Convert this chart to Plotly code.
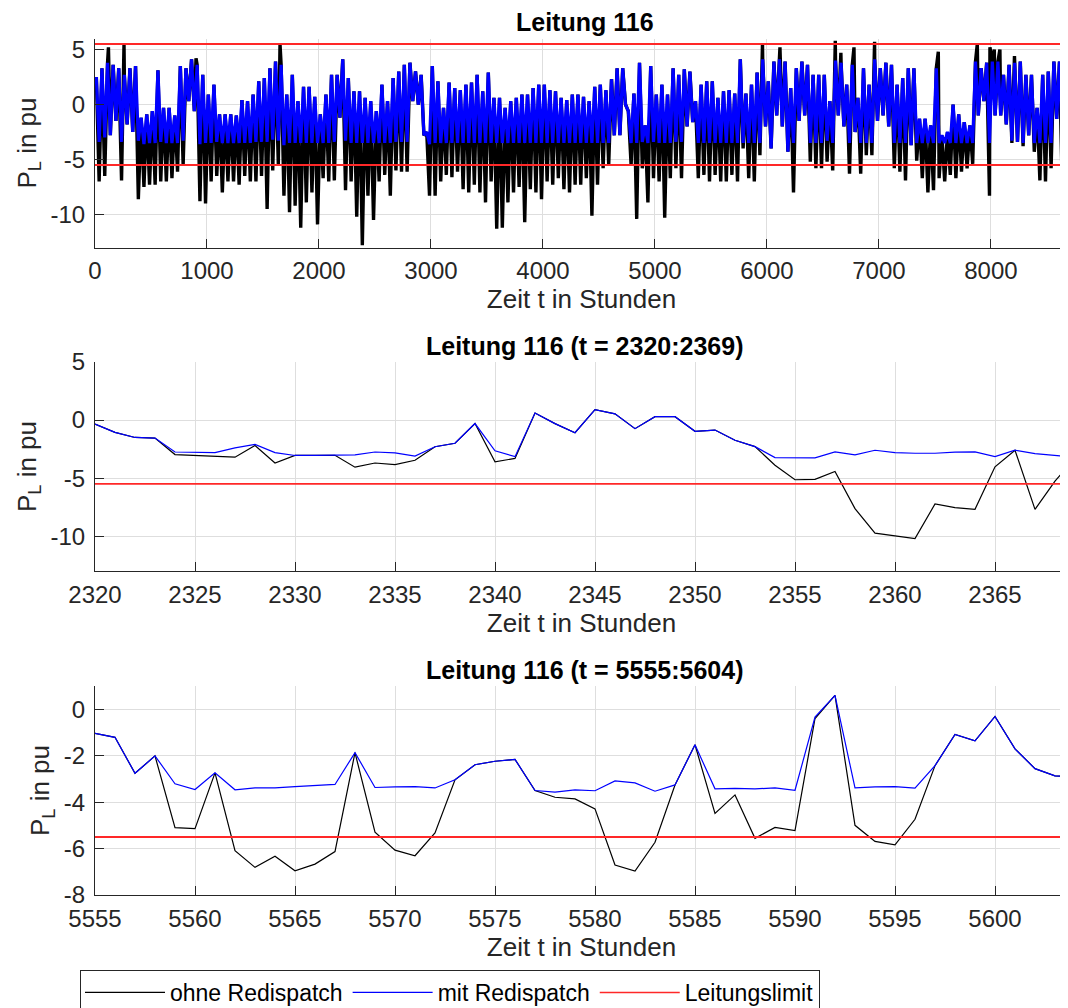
import plotly.graph_objects as go

LIMIT = 5.5

# ---------- top panel: whole year, read per 50-hour bin ----------
bin_start = list(range(0, 8750, 50))
mit_max = [
    2.5, 3.3, 3.8, 3.6, 3.3, 2.7, 3.3, 3.5, -1.2, -0.9,
    -0.6, 3.1, -0.3, -0.3, -1.0, 3.5, 3.3, 4.1, 3.6, 2.7,
    0.9, 1.8, -0.9, -0.9, -0.9, -1.0, 0.4, 0.3, 0.9, 2.1,
    2.4, 3.3, 3.9, 3.6, 0.9, 2.7, 0.3, 1.6, 1.6, 0.7,
    -0.9, 0.9, 2.7, 2.7, 4.1, 2.4, 1.2, 1.2, 0.6, 0.3,
    -0.6, 1.8, 0.3, 2.4, 3.0, 3.6, 3.8, 3.0, 2.7, -2.5,
    3.5, 2.1, -0.3, 2.0, 1.5, 1.3, 1.8, 2.0, 2.7, 1.2,
    2.9, 0.6, 0.6, -0.3, 0.3, 0.6, 0.9, 0.9, 1.5, 1.8,
    1.8, 1.3, 1.2, 0.6, 0.4, 0.9, 0.9, 0.7, 0.3, 1.6,
    1.8, 1.3, 2.3, 3.3, 3.3, -0.6, 1.0, 3.8, -1.9, 3.5,
    0.9, 1.8, 0.9, 3.3, 2.7, 3.2, 3.0, 0.3, 1.8, 2.1,
    2.1, 0.6, 1.2, 1.3, 1.0, 4.1, 1.0, 1.8, 2.9, 4.1,
    2.1, 3.9, 4.1, 3.9, 1.5, 3.3, 3.9, 3.6, 2.7, 2.7,
    2.7, 0.3, 4.0, 3.8, 1.8, 3.6, 0.6, 3.3, 1.8, 4.1,
    3.3, 3.8, 3.6, 1.8, 2.4, 3.3, 3.3, -1.3, -1.3, -1.9,
    3.3, -2.8, -2.5, 0.0, -0.9, -1.6, -1.9, 3.9, 3.3, 3.8,
    3.9, 3.9, 2.7, 3.6, 3.8, 3.9, 2.7, 2.7, -0.3, 2.7,
    3.0, 3.9, 3.9, 3.0, 3.0,
]
mit_min = [
    -3.4, -3.0, -2.8, -1.5, -3.4, -1.8, -2.5, -3.3, -3.6, -3.5,
    -3.5, -3.4, -3.5, -3.5, -3.5, -3.3, 0.3, -0.6, -3.6, -3.5,
    -3.5, -3.4, -3.5, -3.5, -3.5, -3.5, -3.5, -3.5, -3.4, -3.4,
    -3.4, -3.2, -3.3, -3.7, -3.5, -3.5, -3.5, -3.5, -3.5, -3.5,
    -3.5, -3.5, -3.4, -1.2, -3.3, -3.5, -3.5, -3.5, -3.5, -3.5,
    -3.5, -3.5, -3.5, -3.4, -3.4, -3.4, 0.3, 0.0, -2.8, -3.6,
    -3.5, -3.5, -3.5, -3.5, -3.5, -3.5, -3.5, -3.5, -3.5, -3.5,
    -3.5, -3.5, -3.5, -3.5, -3.5, -3.5, -3.5, -3.5, -3.5, -3.5,
    -3.5, -3.5, -3.5, -3.5, -3.5, -3.5, -3.5, -3.5, -3.5, -3.5,
    -3.5, -3.5, -2.8, -2.8, 0.0, -3.5, -3.5, -3.4, -3.5, -3.4,
    -3.5, -3.5, -3.5, -3.4, -3.4, -2.0, -1.6, -3.5, -3.5, -3.5,
    -3.5, -3.5, -3.5, -3.5, -3.5, -3.5, -3.5, -3.5, -3.5, -2.0,
    -4.0, -1.0, -2.0, -4.3, -3.5, -1.5, -1.0, -3.5, -3.5, -3.5,
    -3.3, -3.5, -1.0, -2.0, -3.5, -2.5, -3.5, -3.5, -3.5, -1.5,
    -1.0, -2.0, -3.5, -3.5, -3.5, -3.7, -3.5, -3.5, -3.5, -3.5,
    -3.5, -3.5, -3.5, -3.5, -3.5, -3.5, -3.5, -1.0, 0.3, -3.5,
    -1.0, -1.0, -1.8, -3.3, -3.4, -3.5, -2.8, -3.5, -3.5, -3.5,
    -3.5, -1.3, -3.5, -3.5, -3.5,
]
ohne_min = [
    -7.0, -6.5, -2.8, -1.5, -6.9, -1.8, -2.5, -8.6, -7.5, -7.3,
    -7.3, -7.0, -7.0, -6.7, -6.1, -5.5, 0.3, -0.6, -8.8, -9.0,
    -7.0, -6.5, -8.0, -7.0, -7.0, -7.3, -6.5, -7.0, -7.0, -6.5,
    -9.5, -6.0, -5.5, -8.3, -9.8, -9.2, -11.2, -8.9, -8.0, -10.9,
    -6.7, -7.0, -6.9, -1.2, -7.8, -7.0, -10.2, -12.8, -8.3, -10.5,
    -7.0, -6.4, -8.3, -6.0, -6.1, -6.1, 0.3, 0.0, -2.8, -8.3,
    -8.3, -7.0, -6.4, -6.6, -6.1, -7.7, -8.0, -7.3, -8.0, -8.9,
    -7.0, -11.3, -11.2, -8.9, -8.0, -7.5, -10.7, -7.7, -8.0, -8.6,
    -7.0, -7.3, -6.7, -7.7, -8.0, -7.3, -7.3, -6.7, -10.1, -7.3,
    -5.8, -5.5, -2.8, -2.8, 0.0, -5.5, -10.4, -5.8, -8.9, -6.7,
    -7.0, -10.3, -6.7, -5.8, -6.7, -2.0, -1.6, -6.7, -6.4, -7.0,
    -6.4, -7.0, -7.0, -6.4, -7.0, -4.0, -6.7, -7.0, -4.6, -2.0,
    -4.0, -1.0, -2.0, -4.3, -8.0, -1.5, -1.0, -5.2, -5.8, -5.8,
    -5.2, -6.0, -1.0, -2.0, -6.3, -2.5, -6.3, -4.6, -4.6, -1.5,
    -1.0, -2.0, -5.8, -6.1, -6.9, -3.7, -5.1, -6.7, -8.0, -7.8,
    -6.7, -7.0, -6.4, -6.7, -6.1, -5.8, -5.4, -1.0, 0.3, -8.3,
    -1.0, -1.0, -1.8, -3.5, -3.4, -3.8, -2.8, -4.3, -6.9, -7.0,
    -5.8, -1.3, -7.7, -5.8, -8.3,
]
# single upward peaks of the line without redispatch
spike_t = [120, 259, 902, 1652, 5960, 6116, 6610, 6660, 6777, 6961, 7530, 7878, 7991, 8030, 8080, 8210]
spike_v = [5.2, 5.5, 4.2, 5.5, 5.5, 5.2, 5.8, 4.7, 5.2, 5.7, 4.8, 5.5, 5.2, 5.0, 5.0, 4.4]

# ---------- middle panel: t = 2320:2369 ----------
t_mid = list(range(2320, 2370))
ohne_mid = [
    -0.34, -1.06, -1.5, -1.55, -2.97, -3.03, -3.1, -3.2, -2.2, -3.7,
    -3.05, -3.05, -3.03, -4.06, -3.7, -3.83, -3.46, -2.3, -2.0, -0.3,
    -3.6, -3.3, 0.6, -0.31, -1.09, 0.89, 0.54, -0.74, 0.29, 0.29,
    -0.97, -0.86, -1.74, -2.29, -3.89, -5.14, -5.11, -4.43, -7.63, -9.74,
    -9.97, -10.2, -7.23, -7.54, -7.69, -4.03, -2.6, -7.69, -5.26, -3.3,
]
mit_mid = [
    -0.34, -1.06, -1.5, -1.55, -2.75, -2.8, -2.8, -2.4, -2.1, -2.8,
    -3.05, -3.05, -3.03, -3.0, -2.75, -2.83, -3.1, -2.3, -2.0, -0.3,
    -2.65, -3.15, 0.6, -0.31, -1.09, 0.89, 0.54, -0.74, 0.29, 0.29,
    -0.97, -0.86, -1.74, -2.29, -3.23, -3.23, -3.26, -2.74, -3.0, -2.6,
    -2.8, -2.86, -2.86, -2.77, -2.74, -3.14, -2.6, -2.89, -3.03, -3.2,
]

# ---------- bottom panel: t = 5555:5604 ----------
t_bot = list(range(5555, 5605))
ohne_bot = [
    -1.04, -1.21, -2.76, -2.01, -5.1, -5.14, -2.74, -6.09, -6.81, -6.33,
    -6.96, -6.67, -6.13, -1.87, -5.29, -6.07, -6.31, -5.33, -3.04, -2.39,
    -2.24, -2.16, -3.5, -3.79, -3.86, -4.29, -6.71, -6.97, -5.73, -3.26,
    -1.53, -4.49, -3.69, -5.56, -5.09, -5.23, -0.4, 0.6, -5.0, -5.69,
    -5.84, -4.74, -2.43, -1.09, -1.36, -0.31, -1.71, -2.56, -2.87, -2.9,
]
mit_bot = [
    -1.04, -1.21, -2.76, -2.01, -3.21, -3.46, -2.74, -3.47, -3.39, -3.39,
    -3.33, -3.3, -3.24, -1.87, -3.37, -3.34, -3.33, -3.39, -3.04, -2.39,
    -2.24, -2.16, -3.5, -3.57, -3.47, -3.51, -3.09, -3.17, -3.53, -3.26,
    -1.53, -3.43, -3.41, -3.43, -3.39, -3.49, -0.34, 0.6, -3.39, -3.34,
    -3.33, -3.4, -2.43, -1.09, -1.36, -0.31, -1.71, -2.56, -2.87, -2.9,
]

# tick labels (hyphen minus as in the original)
yt_big = [-10, -5, 0, 5]
yt_big_txt = ['-10', '-5', '0', '5']
yt_bot = [-8, -6, -4, -2, 0]
yt_bot_txt = ['-8', '-6', '-4', '-2', '0']
xt_top = [0, 1000, 2000, 3000, 4000, 5000, 6000, 7000, 8000]
xt_mid = [2320, 2325, 2330, 2335, 2340, 2345, 2350, 2355, 2360, 2365]
xt_bot = [5555, 5560, 5565, 5570, 5575, 5580, 5585, 5590, 5595, 5600]

TITLE_TOP = 'Leitung 116'
TITLE_MID = 'Leitung 116 (t = 2320:2369)'
TITLE_BOT = 'Leitung 116 (t = 5555:5604)'
XLABEL = 'Zeit t in Stunden'
YLABEL = 'P<sub>L</sub> in pu'
NAMES = ['ohne Redispatch', 'mit Redispatch', 'Leitungslimit']

# ---------- build top-panel series from bin extremes ----------
mit_x, mit_y, ohne_pts = [], [], []
for t0, hi, lo, olo in zip(bin_start, mit_max, mit_min, ohne_min):
    mit_x += [t0 + 12, t0 + 37]
    mit_y += [hi, lo]
    ohne_pts += [(t0 + 12, hi), (t0 + 37, olo)]
ohne_pts += list(zip(spike_t, spike_v))
ohne_pts.sort()
ohne_x = [p[0] for p in ohne_pts]
ohne_y = [p[1] for p in ohne_pts]

FONT = 'Liberation Sans, Arial, Helvetica, sans-serif'
AX = '#262626'
GRID = '#dedede'
# the page body adds an 8 px offset, so the figure is 8 px smaller and shifted
OFF = 8
W, H = 1068 - OFF, 1008 - OFF
PX_L = 95 - OFF
# plot areas in reference px (top, bottom)
panels_ref = [(38.5, 247.5), (362, 571), (686, 895)]
panels = [(a - OFF, b - OFF) for a, b in panels_ref]
x_ranges = [[0, 8688], [2320, 2368.65], [5555, 5603.65]]
y_ranges = [[-13, 6], [-13, 5], [-8, 1]]

fig = go.Figure()

BLACK = 'rgb(0,0,0)'
BLUE = 'rgb(0,0,255)'
RED = 'rgb(255,40,40)'

# top (dense yearly series, legend taken from the thin-line panels)
fig.add_trace(go.Scatter(x=ohne_x, y=ohne_y, mode='lines', line=dict(color=BLACK, width=3.4),
                         name=NAMES[0], showlegend=False, legendgroup='o', xaxis='x', yaxis='y'))
fig.add_trace(go.Scatter(x=mit_x, y=mit_y, mode='lines', line=dict(color=BLUE, width=3.2),
                         name=NAMES[1], showlegend=False, legendgroup='m', xaxis='x', yaxis='y'))
fig.add_trace(go.Scatter(x=[0, 8760, None, 0, 8760], y=[LIMIT, LIMIT, None, -LIMIT, -LIMIT], mode='lines',
                         line=dict(color=RED, width=2), name=NAMES[2], showlegend=False, legendgroup='r',
                         xaxis='x', yaxis='y'))
# middle
fig.add_trace(go.Scatter(x=t_mid, y=ohne_mid, mode='lines', line=dict(color=BLACK, width=1.2),
                         name=NAMES[0], legendgroup='o', xaxis='x2', yaxis='y2'))
fig.add_trace(go.Scatter(x=t_mid, y=mit_mid, mode='lines', line=dict(color=BLUE, width=1.2),
                         name=NAMES[1], legendgroup='m', xaxis='x2', yaxis='y2'))
fig.add_trace(go.Scatter(x=[t_mid[0], t_mid[-1], None, t_mid[0], t_mid[-1]],
                         y=[LIMIT, LIMIT, None, -LIMIT, -LIMIT], mode='lines',
                         line=dict(color=RED, width=1.6), name=NAMES[2], legendgroup='r',
                         xaxis='x2', yaxis='y2'))
# bottom
fig.add_trace(go.Scatter(x=t_bot, y=ohne_bot, mode='lines', line=dict(color=BLACK, width=1.2),
                         showlegend=False, legendgroup='o', xaxis='x3', yaxis='y3'))
fig.add_trace(go.Scatter(x=t_bot, y=mit_bot, mode='lines', line=dict(color=BLUE, width=1.2),
                         showlegend=False, legendgroup='m', xaxis='x3', yaxis='y3'))
fig.add_trace(go.Scatter(x=[t_bot[0], t_bot[-1], None, t_bot[0], t_bot[-1]],
                         y=[LIMIT, LIMIT, None, -LIMIT, -LIMIT], mode='lines',
                         line=dict(color=RED, width=2), showlegend=False, legendgroup='r',
                         xaxis='x3', yaxis='y3'))


def xax(rng, tv, anchor):
    return dict(range=rng, tickvals=tv, ticktext=[str(v) for v in tv], domain=[PX_L / W, 1],
                anchor=anchor, showline=True, linecolor=AX, linewidth=1, ticks='inside',
                ticklen=9, tickcolor=AX, tickwidth=1, showgrid=True, gridcolor=GRID, gridwidth=1,
                zeroline=False, tickfont=dict(family=FONT, size=24, color=AX), automargin=False,
                title=dict(text=XLABEL, font=dict(family=FONT, size=26, color=AX), standoff=6),
                ticklabelstandoff=2)


def yax(rng, tv, tt, top, bot, anchor):
    return dict(range=rng, tickvals=tv, ticktext=tt, domain=[1 - bot / H, 1 - top / H],
                anchor=anchor, showline=True, linecolor=AX, linewidth=1, ticks='inside',
                ticklen=9, tickcolor=AX, tickwidth=1, showgrid=True, gridcolor=GRID, gridwidth=1,
                zeroline=False, tickfont=dict(family=FONT, size=24, color=AX), automargin=False,
                title=dict(text=YLABEL, font=dict(family=FONT, size=26, color=AX), standoff=6),
                ticklabelstandoff=4)


layout = dict(
    width=W, height=H, margin=dict(l=0, r=0, t=0, b=0, autoexpand=False),
    paper_bgcolor='white', plot_bgcolor='white', showlegend=True,
    xaxis=xax(x_ranges[0], xt_top, 'y'),
    xaxis2=xax(x_ranges[1], xt_mid, 'y2'),
    xaxis3=xax(x_ranges[2], xt_bot, 'y3'),
    yaxis=yax(y_ranges[0], yt_big, yt_big_txt, *panels[0], 'x'),
    yaxis2=yax(y_ranges[1], yt_big, yt_big_txt, *panels[1], 'x2'),
    yaxis3=yax(y_ranges[2], yt_bot, yt_bot_txt, *panels[2], 'x3'),
    legend=dict(orientation='h', x=(80 - OFF) / W, y=1 - (970 - OFF) / H, xanchor='left', yanchor='top',
                bordercolor=AX, borderwidth=1, bgcolor='white',
                font=dict(family=FONT, size=23, color='black'), itemwidth=80,
                tracegroupgap=0),
)
fig.update_layout(**layout)

for txt, (top, bot) in zip([TITLE_TOP, TITLE_MID, TITLE_BOT], panels):
    fig.add_annotation(text='<b>' + txt + '</b>', xref='paper', yref='paper',
                       x=(585 - OFF) / W, y=1 - (top - 16.5) / H, xanchor='center', yanchor='middle',
                       showarrow=False, font=dict(family=FONT, size=25, color='black'))

fig.write_html('out.html')
